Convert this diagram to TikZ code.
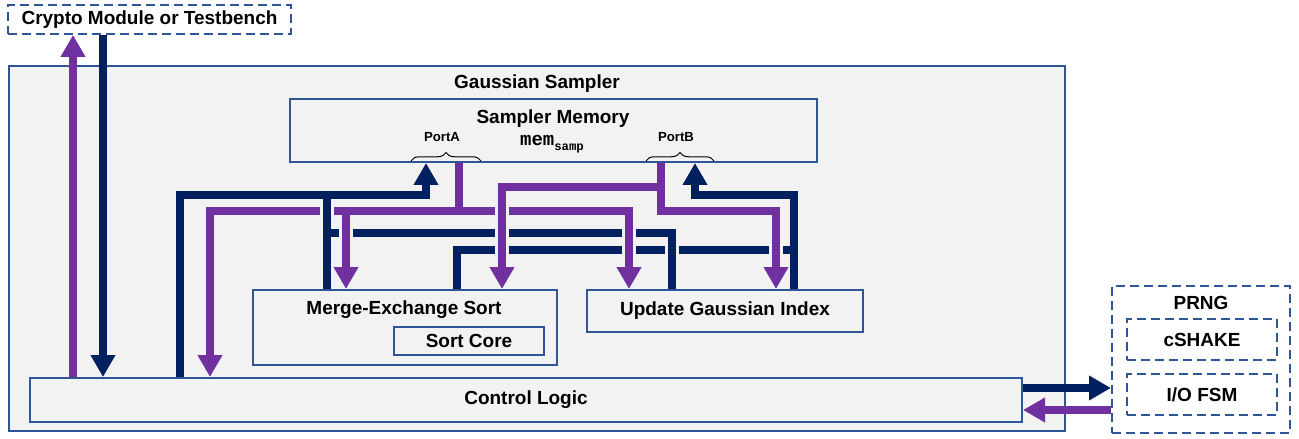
\documentclass[tikz,border=0pt]{standalone}
\usepackage{fontspec}
\setmainfont{Liberation Sans}
\newfontfamily\memfont{Liberation Mono}
\usetikzlibrary{arrows.meta,fit,decorations.pathreplacing}
\definecolor{boxblue}{RGB}{47,85,151}
\definecolor{navyline}{RGB}{0,32,96}
\definecolor{purpline}{RGB}{112,48,160}
\definecolor{samplergray}{RGB}{242,242,242}
\tikzset{
  blk/.style={draw=boxblue, line width=0.04cm, inner sep=0pt},
  dashblk/.style={blk, dash pattern=on 0.18cm off 0.1cm},
  lbl/.style={font=\bfseries\fontsize{10.8}{13}\selectfont},
  portlbl/.style={font=\bfseries\fontsize{7.5}{9}\selectfont},
  navyln/.style={draw=navyline, line width=0.145cm},
  purpln/.style={draw=purpline, line width=0.145cm},
  arrowtip/.style={-{Triangle[width=0.47cm,length=0.44cm]}},
  crossgap/.style={preaction={draw=samplergray, line width=0.27cm}},
  portbrace/.style={decorate, decoration={brace, amplitude=0.17cm}, line width=0.02cm}
}
\begin{document}
\begin{tikzpicture}[x=0.02cm, y=-0.02cm]
        \useasboundingbox (0,0) rectangle (1299,439);
        %modulo esterno
        \node[dashblk, fit={(8,5) (291,34)}] (crypto) {};
        \node[lbl] at (crypto.center) {Crypto Module or Testbench};
        %Gaussian sampler
        \node[blk, fill=samplergray, fit={(9,66) (1065,431)}] (gs) {};
        \node[lbl] at (537,84) {Gaussian Sampler};
        \node[blk, fit={(290,99) (817,162)}] (mem) {};
        \node[lbl] at (553,119) {Sampler Memory};
        \node[portlbl] at (442,137) {PortA};
        \node[portlbl] at (676,137) {PortB};
        \node at (552,144) {\memfont\bfseries\fontsize{10.8}{13}\selectfont mem\raisebox{-0.5ex}{\fontsize{7}{8}\selectfont samp}};
        \draw[portbrace] (411,161) -- (481,161);
        \draw[portbrace] (646,161) -- (714,161);
        \node[blk, fit={(253,290) (557,365)}] (mes) {};
        \node[lbl] at (404,310) {Merge-Exchange Sort};
        \node[blk, fit={(394,327) (544,355)}] (core) {};
        \node[lbl] at (core.center) {Sort Core};
        \node[blk, fit={(587,290) (863,332)}] (ugi) {};
        \node[lbl] at (ugi.center) {Update Gaussian Index};
        \node[blk, fit={(30,378) (1022,422)}] (ctl) {};
        \node[lbl] at (ctl.center) {Control Logic};
        %PRNG
        \node[dashblk, fit={(1112,286) (1290,433)}] (prng) {};
        \node[lbl] at (1201,303) {PRNG};
        \node[dashblk, fit={(1127,319) (1277,360)}] (cshake) {};
        \node[lbl] at (cshake.center) {cSHAKE};
        \node[dashblk, fit={(1127,374) (1277,415)}] (iofsm) {};
        \node[lbl] at (iofsm.center) {I/O FSM};
        % punti di piega
        \coordinate (cUp) at (73,0);
        \coordinate (cDn) at (103,0);
        \coordinate (aL) at (180,195);
        \coordinate (aR) at (426,195);
        \coordinate (mA) at (327,195);
        \coordinate (uL) at (327,233);
        \coordinate (uR) at (672,233);
        \coordinate (sL) at (457,250);
        \coordinate (sR) at (794,250);
        \coordinate (bR) at (794,195);
        \coordinate (bL) at (695,195);
        \coordinate (rA) at (459,211);
        \coordinate (rL) at (210,211);
        \coordinate (rM) at (346,211);
        \coordinate (rU) at (629,211);
        \coordinate (qA) at (661,187);
        \coordinate (qM) at (502,187);
        \coordinate (qB) at (661,211);
        \coordinate (qU) at (776,211);
        \coordinate (tx) at (0,388);
        \coordinate (rx) at (0,410);
        % scrittura (blu)
        \draw[navyln, arrowtip] (crypto.south -| cDn) -- (ctl.north -| cDn);
        \draw[navyln, arrowtip] (ctl.north -| aL) -- (aL) -- (aR) -- (mem.south -| aR);
        \draw[navyln] (mes.north -| mA) -- (mA);
        \draw[navyln] (mes.north -| sL) -- (sL) -- (sR);
        \draw[navyln] (ugi.north -| uR) -- (uR) -- (uL);
        \draw[navyln, arrowtip] (ugi.north -| bR) -- (bR) -- (bL) -- (mem.south -| bL);
        \draw[navyln, arrowtip] (ctl.east |- tx) -- (prng.west |- tx);
        % lettura (viola)
        \draw[purpln, arrowtip] (ctl.north -| cUp) -- (crypto.south -| cUp);
        \draw[purpln, arrowtip] (mem.south -| rA) -- (rA) -- (rL) -- (ctl.north -| rL);
        \draw[purpln, arrowtip] (rM) -- (mes.north -| rM);
        \draw[purpln, arrowtip] (rA) -- (rU) -- (ugi.north -| rU);
        \draw[purpln, arrowtip] (mem.south -| qA) -- (qA) -- (qM) -- (mes.north -| qM);
        \draw[purpln, arrowtip] (qA) -- (qB) -- (qU) -- (ugi.north -| qU);
        \draw[purpln, arrowtip] (prng.west |- rx) -- (ctl.east |- rx);
        % incroci
        \draw[navyln, crossgap] (327,201) -- (327,222);
        \draw[purpln, crossgap] (346,223) -- (346,243);
        \draw[purpln, crossgap] (502,201) -- (502,260);
        \draw[purpln, crossgap] (629,223) -- (629,260);
        \draw[navyln, crossgap] (672,240) -- (672,260);
        \draw[purpln, crossgap] (776,240) -- (776,260);
    \end{tikzpicture}
\end{document}
